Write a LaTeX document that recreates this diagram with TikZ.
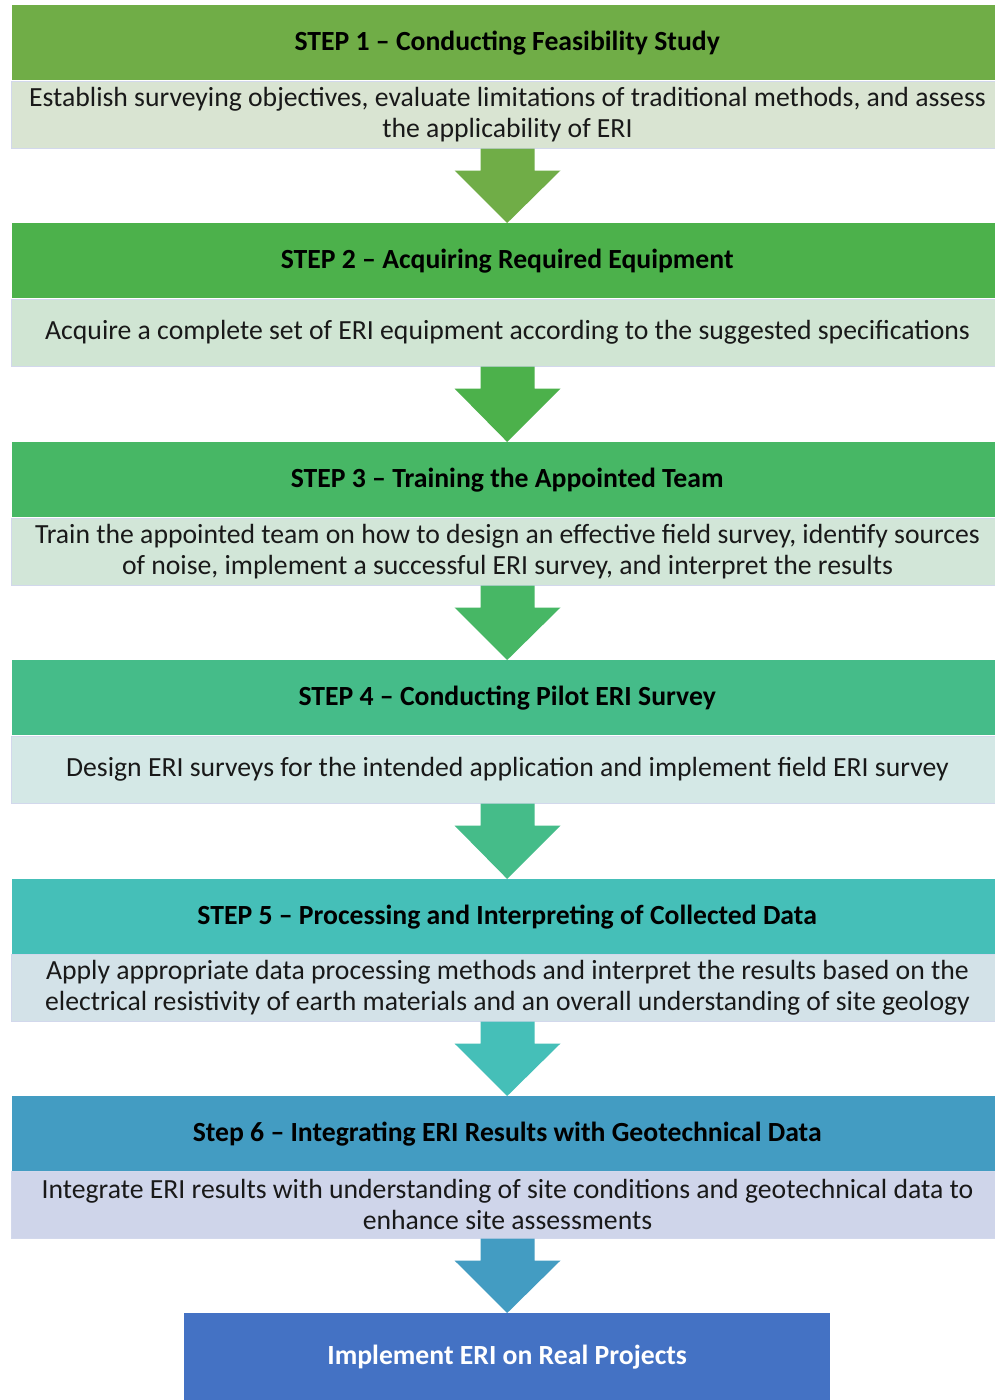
\documentclass[tikz,border=0pt]{standalone}
\usepackage{fontspec}
\setmainfont{Carlito}
\usetikzlibrary{calc}
\definecolor{hA}{HTML}{70AD47}
\definecolor{hB}{HTML}{4CB14B}
\definecolor{hC}{HTML}{47B765}
\definecolor{hD}{HTML}{45BC89}
\definecolor{hE}{HTML}{45BFB8}
\definecolor{hF}{HTML}{439CC2}
\definecolor{hG}{HTML}{4472C4}
\definecolor{bA}{HTML}{D9E4D2}
\definecolor{bB}{HTML}{D0E5D3}
\definecolor{bC}{HTML}{D2E6D8}
\definecolor{bD}{HTML}{D4E8E6}
\definecolor{bE}{HTML}{D3E2E8}
\definecolor{bF}{HTML}{CFD5EA}
\definecolor{bline}{HTML}{D2D8EC}
\tikzset{
  x=1pt,y=-1pt,
  headbox/.style={anchor=north west,minimum width=990pt,minimum height=75pt,inner sep=0pt,font=\fontsize{27.7}{31}\selectfont\bfseries,text=black},
  bodybox/.style={anchor=north west,draw=bline,line width=1pt,minimum width=993pt,minimum height=67pt,inner sep=0pt,align=center,font=\fontsize{27.7}{31}\selectfont,text=black!90},
}
\newcommand{\blockarrow}[3]{%
  \fill[#3] ($(#1.south)+(-27,0)$) -- ($(#1.south)+(27,0)$) -- ($(#1.south)+(27,22)$) -- ($(#1.south)+(53,22)$) -- (#2.north) -- ($(#1.south)+(-53,22)$) -- ($(#1.south)+(-27,22)$) -- cycle;}
\begin{document}
\begin{tikzpicture}
\useasboundingbox[fill=white] (0,0) rectangle (994,1400);
% step 1
\node[headbox,fill=hA] (h1) at (12,5) {STEP 1 -- Conducting Feasibility Study};
\node[bodybox,fill=bA] (b1) at (10.5,80.5) {Establish surveying objectives, evaluate limitations of traditional methods, and assess\\the applicability of ERI};
% step 2
\node[headbox,fill=hB] (h2) at (12,223) {STEP 2 -- Acquiring Required Equipment};
\node[bodybox,fill=bB] (b2) at (10.5,298.5) {Acquire a complete set of ERI equipment according to the suggested specifications};
% step 3
\node[headbox,fill=hC] (h3) at (12,442) {STEP 3 -- Training the Appointed Team};
\node[bodybox,fill=bC] (b3) at (10.5,517.5) {Train the appointed team on how to design an effective field survey, identify sources\\of noise, implement a successful ERI survey, and interpret the results};
% step 4
\node[headbox,fill=hD] (h4) at (12,660) {STEP 4 -- Conducting Pilot ERI Survey};
\node[bodybox,fill=bD] (b4) at (10.5,735.5) {Design ERI surveys for the intended application and implement field ERI survey};
% step 5
\node[headbox,fill=hE] (h5) at (12,879) {STEP 5 -- Processing and Interpreting of Collected Data};
\node[bodybox,fill=bE] (b5) at (10.5,953.5) {Apply appropriate data processing methods and interpret the results based on the\\electrical resistivity of earth materials and an overall understanding of site geology};
% step 6
\node[headbox,fill=hF] (h6) at (12,1096) {Step 6 -- Integrating ERI Results with Geotechnical Data};
\node[bodybox,fill=bF] (b6) at (10.5,1170.5) {Integrate ERI results with understanding of site conditions and geotechnical data to\\enhance site assessments};
% final
\node[anchor=north west,fill=hG,minimum width=646pt,minimum height=87pt,inner sep=0pt,font=\fontsize{27.7}{31}\selectfont\bfseries,text=white] (fin) at (184,1313) {Implement ERI on Real Projects};
% arrows
\blockarrow{b1}{h2}{hA}
\blockarrow{b2}{h3}{hB}
\blockarrow{b3}{h4}{hC}
\blockarrow{b4}{h5}{hD}
\blockarrow{b5}{h6}{hE}
\blockarrow{b6}{fin}{hF}
\end{tikzpicture}
\end{document}
